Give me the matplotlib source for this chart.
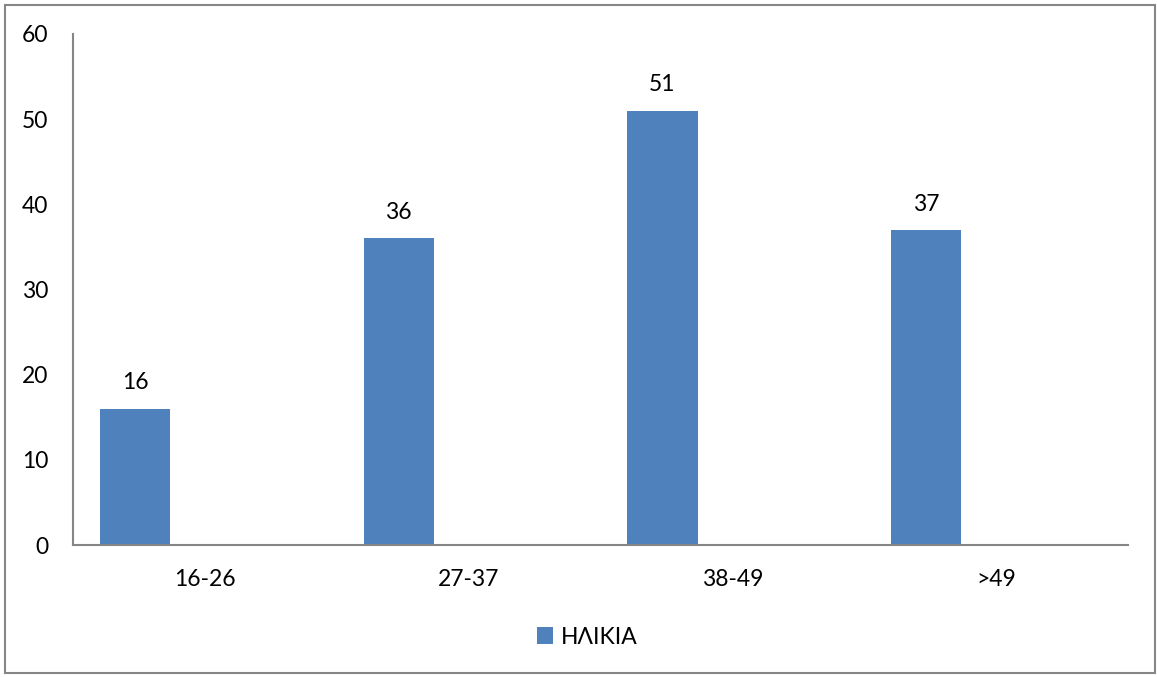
import matplotlib
matplotlib.use("Agg")
import matplotlib.pyplot as plt
import numpy as np
from matplotlib.patches import Rectangle

categories = ["16-26", "27-37", "38-49", ">49"]
values = [16, 36, 51, 37]
series_name = "ΗΛΙΚΙΑ"
yticks = [0, 10, 20, 30, 40, 50, 60]

plt.rcParams['font.family'] = ['Lato', 'DejaVu Sans']
bar_color = "#4F81BD"
axis_color = "#868686"
fs = 16.5

fig = plt.figure(figsize=(11.57, 6.77), dpi=100)
ax = fig.add_axes([73/1157, 1-545/677, (1128-73)/1157, (545-34)/677])

x = np.arange(len(categories))
bars = ax.bar(x + 0.102, values, width=0.266, align='edge', color=bar_color, label=series_name, zorder=2)
for xi, v in zip(x, values):
    ax.annotate(str(v), (xi + 0.102 + 0.133, v), xytext=(0, 11), textcoords='offset points',
                ha='center', va='bottom', fontsize=fs, color='black')

ax.set_xlim(0, len(categories))
ax.set_ylim(0, 60)
ax.set_yticks(yticks)
ax.set_yticklabels([str(t) for t in yticks])
ax.set_xticks(x + 0.5)
ax.set_xticklabels(categories)
ax.tick_params(axis='both', length=0, labelsize=fs, colors='black')
ax.tick_params(axis='y', pad=18)
ax.tick_params(axis='x', pad=17)
for s in ['top', 'right']:
    ax.spines[s].set_visible(False)
for s in ['left', 'bottom']:
    ax.spines[s].set_color(axis_color)
    ax.spines[s].set_linewidth(1.5)

leg = fig.legend(handles=[bars], labels=[series_name], loc='center', bbox_to_anchor=(587/1157, 1-637/677),
                 frameon=False, fontsize=fs, handlelength=0.7, handleheight=0.7, handletextpad=0.35)

fig.patches.append(Rectangle((4.5/1157, 4.5/677), (1155-4.5)/1157, (672.5-4.5)/677,
                             transform=fig.transFigure, fill=False, edgecolor=axis_color, linewidth=1.5))

fig.savefig("out.png", dpi=100)
